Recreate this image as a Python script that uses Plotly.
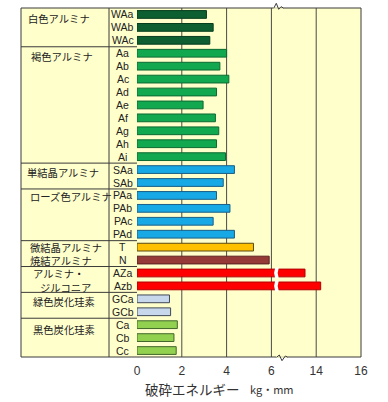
import plotly.graph_objects as go

# ---------------- data ----------------
codes = ["WAa", "WAb", "WAc",
         "Aa", "Ab", "Ac", "Ad", "Ae", "Af", "Ag", "Ah", "Ai",
         "SAa", "SAb",
         "PAa", "PAb", "PAc", "PAd",
         "T", "N",
         "AZa", "Azb",
         "GCa", "GCb",
         "Ca", "Cb", "Cc"]
energy = [3.1, 3.4, 3.25,
          4.0, 3.7, 4.1, 3.55, 2.95, 3.5, 3.65, 3.55, 3.95,
          4.35, 3.85,
          3.55, 4.15, 3.4, 4.35,
          5.2, 5.9,
          13.5, 14.2,
          1.45, 1.5,
          1.8, 1.65, 1.75]
groups = (["WA"] * 3 + ["A"] * 9 + ["SA"] * 2 + ["PA"] * 4 +
          ["T", "N"] + ["AZ"] * 2 + ["GC"] * 2 + ["C"] * 3)
group_names = ["白色アルミナ", "褐色アルミナ", "単結晶アルミナ", "ローズ色アルミナ",
               "微結晶アルミナ", "焼結アルミナ", "アルミナ・", "ジルコニア",
               "緑色炭化珪素", "黒色炭化珪素"]
tick_labels = ["0", "2", "4", "6", "14", "16"]
tick_vals = [0, 2, 4, 6, 8, 10]
axis_title = "破砕エネルギー"
unit_label = "kg・mm"

# axis break: values above 6 are drawn shifted down by 6 (14 -> drawn at 8)
BREAK_AT = 6
BREAK_SHIFT = 6

# ---------------- styles ----------------
fill = {"WA": "#0d5e30", "A": "#12a84f", "SA": "#17a8e6", "PA": "#17a8e6",
        "T": "#ffc000", "N": "#963a37", "AZ": "#ff0000", "GC": "#c8d8ec",
        "C": "#92d050"}
edge = {"WA": "#063d1d", "A": "#0b6a31", "SA": "#1a5f86", "PA": "#1a5f86",
        "T": "#5a4a10", "N": "#5c2020", "AZ": "#b00000", "GC": "#3f4856",
        "C": "#40682a"}

W, H = 388, 402
L, R, T, B = 137, 361, 8, 357  # plot area in px
PW, PH = R - L, B - T


def px(x):
    return (x - L) / PW


def py(y):
    return (B - y) / PH


ypos = list(range(len(codes)))
xdisp = [v if v <= BREAK_AT else v - BREAK_SHIFT for v in energy]

fig = go.Figure()
fig.add_trace(go.Bar(
    x=xdisp, y=ypos, orientation="h", width=0.6,
    marker=dict(color=[fill[g] for g in groups],
                line=dict(color=[edge[g] for g in groups], width=1)),
    hoverinfo="skip", showlegend=False,
))

shapes = []
# left table background
shapes.append(dict(type="rect", xref="paper", yref="paper",
                   x0=px(21), x1=0, y0=0, y1=1, fillcolor="#ffffcc",
                   line=dict(width=0), layer="below"))
# grid lines
for v in tick_vals[1:-1]:
    shapes.append(dict(type="line", xref="x", yref="paper", x0=v, x1=v,
                       y0=0, y1=1, line=dict(color="#4a4a4a", width=1),
                       layer="below"))
# outer border
shapes.append(dict(type="rect", xref="paper", yref="paper",
                   x0=px(21), x1=1, y0=0, y1=1,
                   line=dict(color="#3a3a3a", width=1)))
# table column divider
shapes.append(dict(type="line", xref="paper", yref="paper",
                   x0=px(109), x1=px(109), y0=0, y1=1,
                   line=dict(color="#3a3a3a", width=1)))
# group separators (T and N share one box)
for i in range(1, len(groups)):
    if groups[i] != groups[i - 1] and groups[i] != "N":
        shapes.append(dict(type="line", xref="paper", yref="y",
                           x0=px(21), x1=0, y0=i - 0.5, y1=i - 0.5,
                           line=dict(color="#3a3a3a", width=1)))

# break gaps in the AZ bars
for i, v in enumerate(energy):
    if v > BREAK_AT:
        a, b = 6.17, 6.33
        path = (f"M {a},{i-0.42} L {b},{i-0.42} L {b-0.05},{i} L {b},{i+0.42} "
                f"L {a},{i+0.42} L {a-0.05},{i} Z")
        shapes.append(dict(type="path", xref="x", yref="y", path=path,
                           fillcolor="white", line=dict(width=0)))

# zigzag break marks on top/bottom border
off = 2
shapes.append(dict(type="line", xref="paper", yref="paper",
                   x0=px(271 + off), x1=px(282 + off), y0=1, y1=1,
                   line=dict(color="#ffffcc", width=1.5)))
shapes.append(dict(type="line", xref="paper", yref="paper",
                   x0=px(274 + off), x1=px(286 + off), y0=0, y1=0,
                   line=dict(color="#ffffcc", width=1.5)))


def zig(points):
    s = ""
    for k, (xx, yy) in enumerate(points):
        s += ("M " if k == 0 else " L ") + f"{px(xx + off)},{py(yy)}"
    return s


shapes.append(dict(type="path", xref="paper", yref="paper",
                   path=zig([(271.7, 8.3), (274.3, 3.3), (276.7, 9.3), (279, 6.7), (282, 8.3)]),
                   line=dict(color="#3a3a3a", width=1)))
shapes.append(dict(type="path", xref="paper", yref="paper",
                   path=zig([(274.5, 357.3), (277.3, 355), (280, 360.7), (283.3, 356), (286, 357.3)]),
                   line=dict(color="#3a3a3a", width=1)))

annotations = []
JP = "Noto Sans CJK JP"
LAT = "Arial, Liberation Sans"
# codes
for i, c in enumerate(codes):
    annotations.append(dict(text=c, xref="paper", yref="y", x=px(122.5), y=i,
                            xanchor="center", yanchor="middle", showarrow=False,
                            font=dict(family=LAT, size=10.5, color="#222")))
# group names: (text, x_left px, y center px)
gl = [(group_names[0], 26, 18.5), (group_names[1], 29, 56.7),
      (group_names[2], 25, 172.5), (group_names[3], 28, 196),
      (group_names[4] + "<br>" + group_names[5], 28, 254),
      (group_names[6], 31, 273), (group_names[7], 38, 287),
      (group_names[8], 30.5, 301.5), (group_names[9], 30.5, 329)]
for name, gx, gy in gl:
    annotations.append(dict(text=name, xref="paper", yref="paper", x=px(gx), y=py(gy),
                            xanchor="left", yanchor="middle", align="left",
                            showarrow=False,
                            font=dict(family=JP, size=10.3, color="#222")))
# axis title
annotations.append(dict(text=axis_title, xref="paper", yref="paper", x=px(142.5), y=py(389),
                        xanchor="left", yanchor="middle", showarrow=False,
                        font=dict(family=JP, size=13.5, color="#333")))
annotations.append(dict(text=unit_label, xref="paper", yref="paper", x=px(248), y=py(389),
                        xanchor="left", yanchor="middle", showarrow=False,
                        font=dict(family=JP, size=11, color="#333")))

fig.update_layout(
    width=W, height=H,
    margin=dict(l=L, r=W - R, t=T, b=H - B, pad=0),
    paper_bgcolor="white", plot_bgcolor="#ffffcc",
    shapes=shapes, annotations=annotations,
    xaxis=dict(range=[0, 10], tickvals=tick_vals, ticktext=tick_labels,
               showgrid=False, zeroline=False, showline=False, ticks="",
               ticklabelstandoff=5,
               tickfont=dict(family=LAT, size=12, color="#333"),
               fixedrange=True),
    yaxis=dict(range=[len(codes) - 0.5, -0.5], showticklabels=False,
               showgrid=False, zeroline=False, showline=False, ticks="",
               fixedrange=True),
)

fig.write_html("out.html", config={"displayModeBar": False},
               post_script="document.body.style.margin='0';document.body.style.overflow='hidden';")
